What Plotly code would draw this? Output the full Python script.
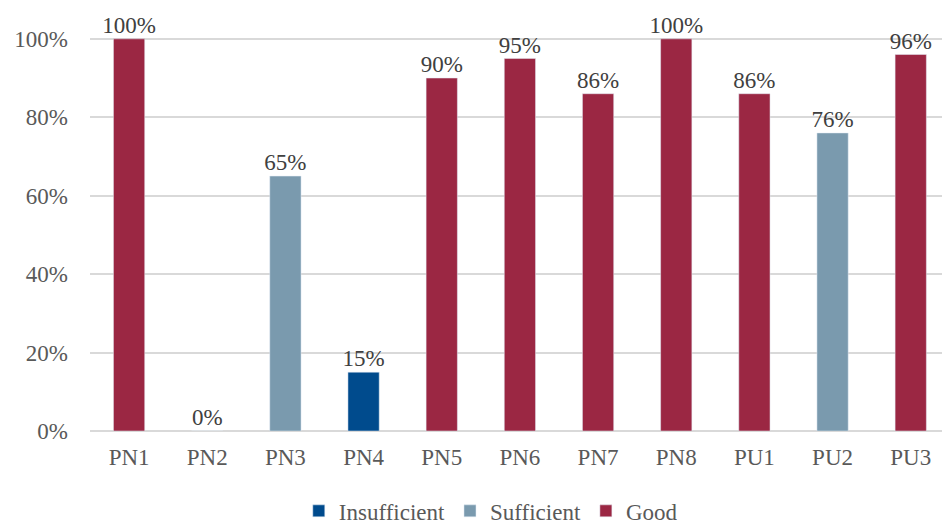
import plotly.graph_objects as go

categories = ["PN1", "PN2", "PN3", "PN4", "PN5", "PN6", "PN7", "PN8", "PU1", "PU2", "PU3"]
values = [1.00, 0.00, 0.65, 0.15, 0.90, 0.95, 0.86, 1.00, 0.86, 0.76, 0.96]
levels = ["Good", "Insufficient", "Sufficient", "Insufficient", "Good", "Good", "Good", "Good", "Good", "Sufficient", "Good"]
series_names = ["Insufficient", "Sufficient", "Good"]
series_colors = {"Insufficient": "#004B8D", "Sufficient": "#7A9AAE", "Good": "#9B2743"}
y_ticks = [0, 0.2, 0.4, 0.6, 0.8, 1.0]
y_tick_labels = ["0%", "20%", "40%", "60%", "80%", "100%"]

FONT = "Liberation Serif, Times New Roman, serif"
FS = 23

fig = go.Figure()
for s in series_names:
    xs = [c for c, l in zip(categories, levels) if l == s]
    ys = [v for v, l in zip(values, levels) if l == s]
    fig.add_trace(go.Bar(x=xs, y=ys, name=s, marker_color=series_colors[s], width=0.4,
                         showlegend=True))

fig.add_trace(go.Scatter(
    x=categories, y=values, mode="text",
    text=[f"{round(v*100)}%" for v in values],
    textposition="top center",
    textfont=dict(family=FONT, size=FS, color="#404040"),
    showlegend=False, cliponaxis=False, hoverinfo="skip"))

fig.update_layout(
    width=942, height=524,
    margin=dict(l=90, r=0, t=0, b=93, autoexpand=False),
    barmode="relative",
    plot_bgcolor="white", paper_bgcolor="white",
    font=dict(family=FONT, size=FS, color="#595959"),
    legend=dict(orientation="h", x=0.521, xref="container", xanchor="center",
                y=0.025, yref="container", yanchor="middle",
                font=dict(size=FS, color="#595959"),
                traceorder="normal", itemwidth=30, tracegroupgap=0),
    xaxis=dict(type="category", categoryorder="array", categoryarray=categories,
               range=[-0.5, 10.4], showgrid=False, showline=False, ticks="",
               tickangle=0,
               tickfont=dict(size=FS, color="#595959"), ticklabelstandoff=10),
    yaxis=dict(range=[0, 1.099], tickvals=y_ticks, ticktext=y_tick_labels,
               showgrid=True, gridcolor="#D9D9D9", gridwidth=2, zeroline=True,
               zerolinecolor="#D9D9D9", zerolinewidth=2, showline=False,
               tickfont=dict(size=FS, color="#595959"), ticklabelstandoff=21),
)

fig.write_html("out.html")
